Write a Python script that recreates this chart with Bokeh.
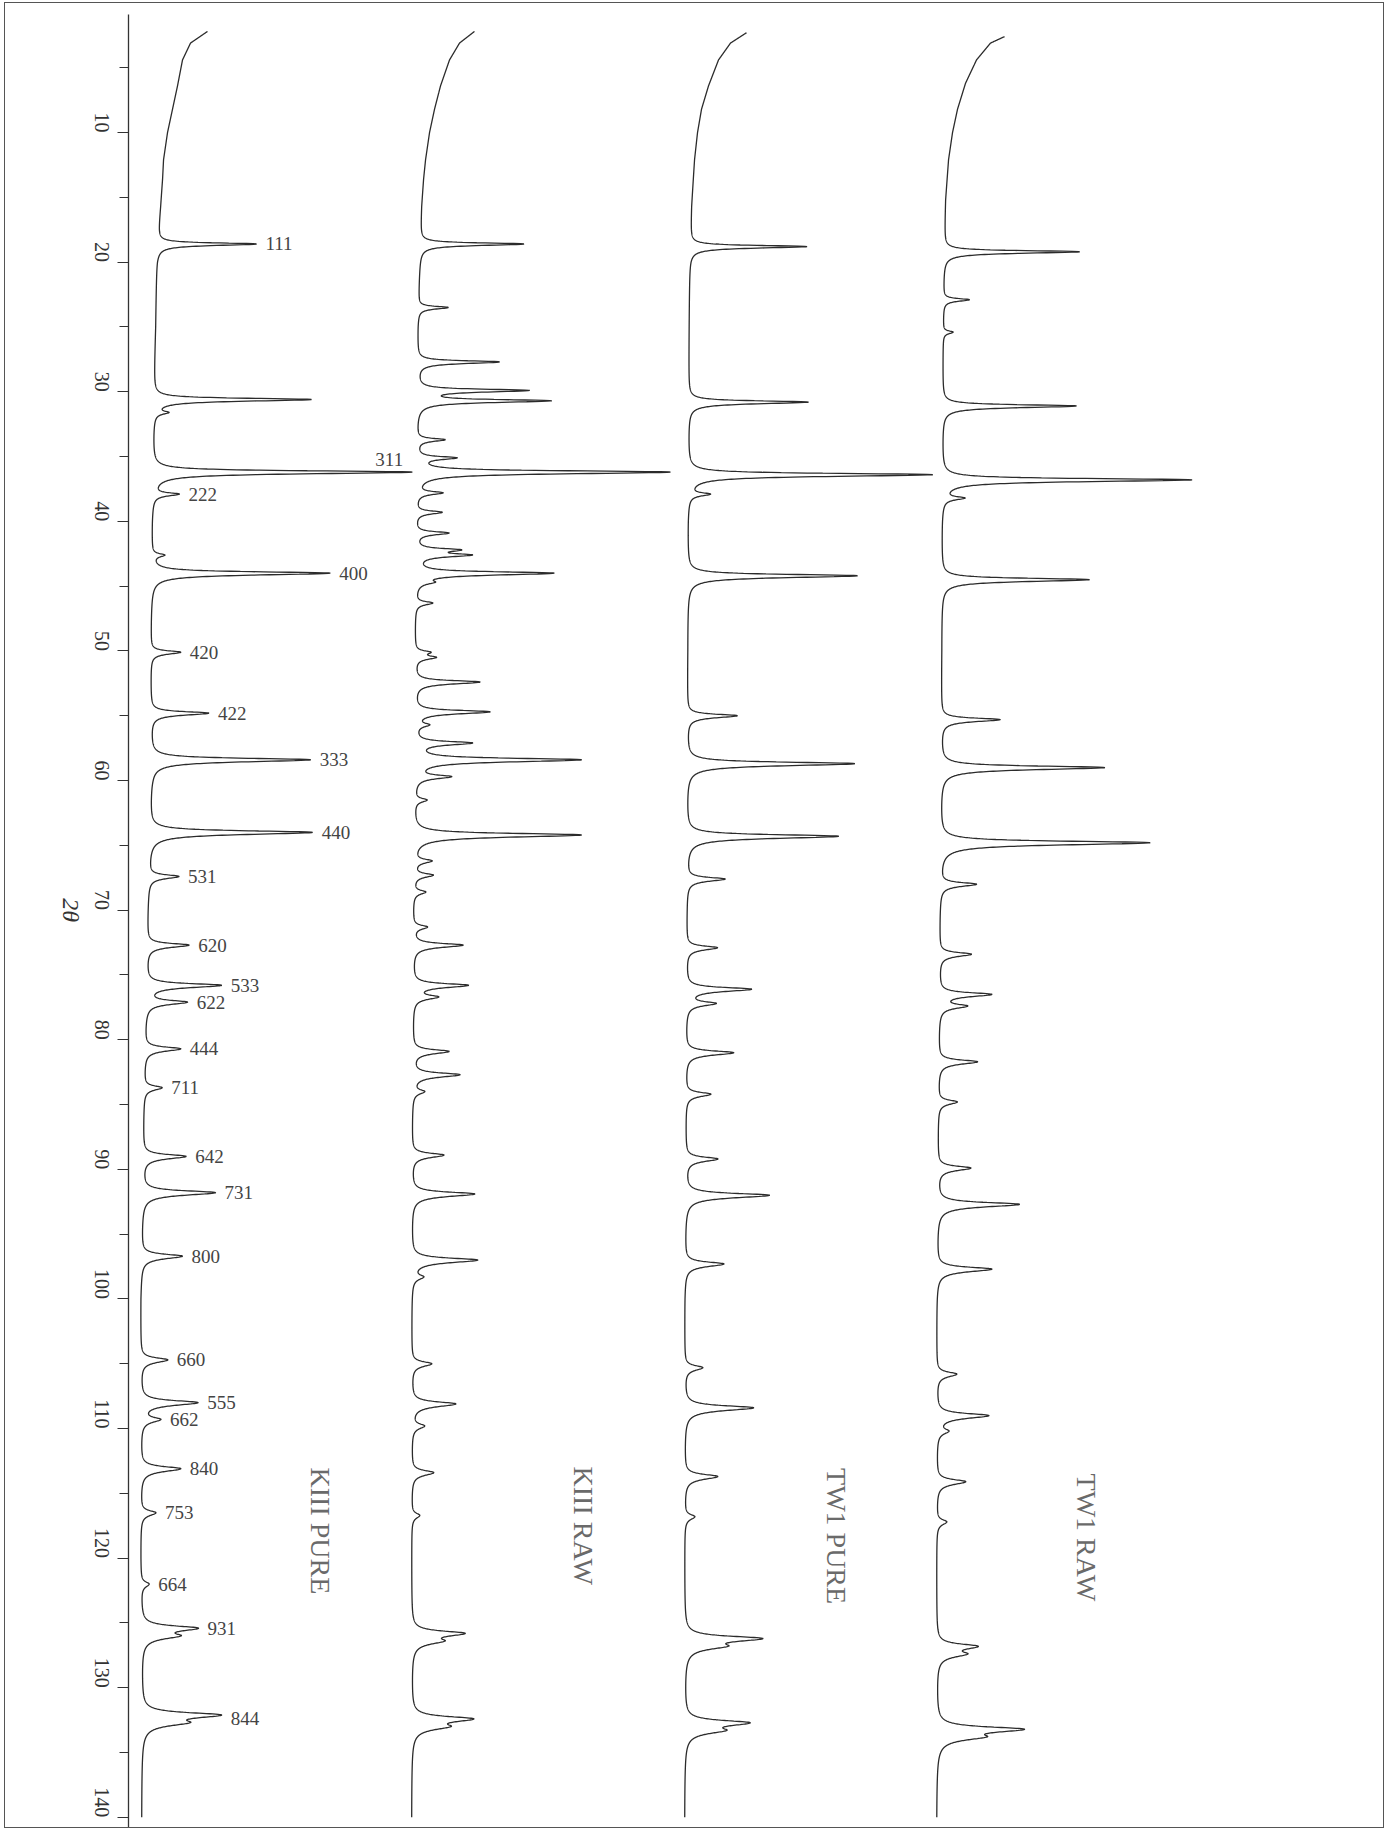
import math
import numpy as np
from bokeh.plotting import figure
from bokeh.models import Range1d, SingleIntervalTicker, ColumnDataSource
from bokeh.core.properties import value
from bokeh.embed import file_html
from bokeh.resources import INLINE

# ---------------- data ----------------
series_names = ["KIII PURE", "KIII RAW", "TW1 PURE", "TW1 RAW"]
scan_start = [2.2, 2.2, 2.3, 2.6]
scan_end = 140.0

# background (relative intensity) knots: 2-theta, intensity
kiii_pure_bg_t = [2.2, 3.1, 4.4, 6.4, 8.2, 10, 12.1, 13.6, 15.7, 17.5, 20, 25, 30, 35, 40, 50, 60, 70, 80, 90, 100, 110, 120, 130, 140]
kiii_pure_bg_i = [57, 40, 32, 27, 22, 17, 13, 12, 10, 8, 6, 5, 3, 2, 1, 0, 0, -3, -6, -8, -10, -10, -10, -9, -9]
kiii_raw_bg_t = [2.2, 3.1, 4.4, 6.4, 8.2, 10, 12.1, 13.6, 15.7, 17.5, 20, 25, 30, 35, 40, 50, 60, 70, 80, 90, 100, 110, 120, 130, 140]
kiii_raw_bg_i = [58, 43, 33, 24, 18, 13, 9, 7, 5, 4, 3, 1, 0, -1, -2, -2, -3, -4, -4, -5, -5, -5, -5, -5, -5]
tw1_pure_bg_t = [2.3, 3.1, 4.4, 6.4, 8.2, 10, 12.1, 15.7, 20, 30, 40, 50, 60, 70, 80, 90, 100, 120, 140]
tw1_pure_bg_i = [56, 40, 28, 18, 11, 7, 4, 1, -1, -2, -3, -3, -4, -4, -5, -5, -6, -6, -6]
tw1_raw_bg_t = [2.6, 3.1, 4.4, 6.2, 8.2, 10, 12.1, 15.2, 17.7, 20, 30, 40, 50, 60, 70, 80, 90, 100, 120, 140]
tw1_raw_bg_i = [60, 46, 32, 21, 13, 8, 4, 1, 0, -1, -2, -3, -3, -4, -5, -6, -7, -8, -8, -8]

# peaks: 2-theta position, height above background
kiii_pure_pk_t = [18.6, 30.6, 31.6, 36.2, 37.9, 42.6, 44.0, 50.1, 54.8, 58.4, 64.0, 67.4, 72.7, 75.8, 77.1,
                  80.7, 83.7, 89.0, 91.8, 96.7, 104.7, 108.0, 109.3, 113.1, 116.5, 122.0, 125.4, 126.0, 132.1, 132.7]
kiii_pure_pk_i = [99, 158, 12, 260, 25, 12, 179, 30, 58, 160, 163, 30, 42, 75, 40,
                  36, 18, 43, 73, 41, 27, 57, 18, 40, 15, 8, 54, 30, 76, 34]
kiii_raw_pk_t = [18.6, 23.5, 27.7, 29.9, 30.7, 33.7, 35.1, 36.2, 37.8, 39.3, 40.9, 42.2, 42.6, 44.0, 44.7, 46.3,
                 50.1, 50.5, 52.4, 54.7, 55.7, 57.1, 58.4, 59.7, 61.5, 64.2, 66.2, 67.3, 68.6, 71.3, 72.7, 75.8,
                 76.7, 80.9, 82.7, 84.0, 88.9, 91.9, 97.0, 98.3, 105.0, 108.1, 109.8, 113.4, 116.7, 125.8, 126.4,
                 132.4, 133.0]
kiii_raw_pk_i = [104, 30, 82, 110, 131, 28, 38, 254, 25, 26, 33, 41, 50, 138, 12, 17,
                 14, 19, 65, 75, 12, 56, 166, 34, 12, 168, 17, 19, 12, 14, 50, 55,
                 23, 36, 47, 11, 32, 63, 66, 10, 20, 44, 12, 22, 8, 51, 24,
                 59, 28]
tw1_pure_pk_t = [18.8, 30.8, 36.4, 37.9, 44.2, 55.0, 58.7, 64.3, 67.6, 72.9, 76.1, 77.2, 81.0, 84.2, 89.2,
                 92.0, 97.3, 105.3, 108.4, 113.7, 116.8, 126.2, 126.8, 132.7, 133.3]
tw1_pure_pk_i = [117, 120, 245, 20, 170, 50, 168, 152, 38, 31, 65, 28, 48, 25, 32,
                 84, 39, 18, 69, 33, 10, 75, 30, 62, 30]
tw1_raw_pk_t = [19.2, 22.9, 25.4, 31.1, 36.8, 38.2, 44.5, 55.3, 59.0, 64.8, 68.0, 73.4, 76.5, 77.4, 81.7,
                84.8, 89.9, 92.7, 97.7, 105.8, 109.0, 110.2, 114.1, 117.2, 126.8, 127.4, 133.2, 133.8]
tw1_raw_pk_i = [136, 26, 10, 134, 250, 20, 148, 59, 164, 210, 36, 32, 52, 26, 39,
                19, 33, 82, 55, 20, 52, 10, 29, 10, 39, 24, 84, 34]

# Miller indices marked on the KIII PURE pattern
hkl_text = ["111", "311", "222", "400", "420", "422", "333", "440", "531", "620", "533", "622", "444", "711",
            "642", "731", "800", "660", "555", "662", "840", "753", "664", "931", "844"]
hkl_t = [18.6, 36.2, 37.9, 44.0, 50.1, 54.8, 58.4, 64.0, 67.4, 72.7, 75.8, 77.1, 80.7, 83.7,
         89.0, 91.8, 96.7, 104.7, 108.0, 109.3, 113.1, 116.5, 122.0, 125.4, 132.4]

# ---------------- layout / style ----------------
offsets = [22, 288, 562, 816]          # horizontal stacking of the four patterns
name_pos_x = [192, 455, 708, 958]
name_pos_t = [117.9, 117.5, 118.3, 118.4]
LINE = "#2b2b2b"
SERIF = "Liberation Serif"

bgs = [(kiii_pure_bg_t, kiii_pure_bg_i), (kiii_raw_bg_t, kiii_raw_bg_i),
       (tw1_pure_bg_t, tw1_pure_bg_i), (tw1_raw_bg_t, tw1_raw_bg_i)]
pks = [(kiii_pure_pk_t, kiii_pure_pk_i), (kiii_raw_pk_t, kiii_raw_pk_i),
       (tw1_pure_pk_t, tw1_pure_pk_i), (tw1_raw_pk_t, tw1_raw_pk_i)]


def pattern(t0, bg, pk):
    tt = np.arange(t0, scan_end + 0.001, 0.015)
    inten = np.interp(tt, bg[0], bg[1]).astype(float)
    for c, h in zip(pk[0], pk[1]):
        w = 0.17 + 0.002 * c
        d = tt - c
        ww = np.where(d < 0, w, 1.35 * w)
        inten = inten + h / (1.0 + (2.0 * d / ww) ** 2)
    return tt, inten


p = figure(width=1380, height=1826,
           x_range=Range1d(0, 1257), y_range=Range1d(140.94, 0.895),
           output_backend="svg", toolbar_location=None, x_axis_location=None,
           min_border_left=123, min_border_right=0, min_border_top=11, min_border_bottom=0,
           styles={"border": "1px solid #555", "margin-left": "4px", "margin-top": "2px"})
p.outline_line_color = None
p.grid.visible = False

ax = p.yaxis[0]
ax.ticker = SingleIntervalTicker(interval=10, num_minor_ticks=2)
ax.major_label_orientation = -math.pi / 2
ax.major_label_text_font = SERIF
ax.major_label_text_font_size = "20px"
ax.major_label_text_color = "#333333"
ax.major_label_standoff = 16
ax.axis_line_color = "#333333"
ax.axis_line_width = 1.3
ax.major_tick_line_color = "#333333"
ax.minor_tick_line_color = "#333333"
ax.major_tick_out = 11
ax.major_tick_in = 0
ax.minor_tick_out = 9
ax.minor_tick_in = 0

# axis title "2θ" (reads top to bottom like the tick labels)
ax.axis_label = "2θ"
ax.axis_label_text_font = SERIF
ax.axis_label_text_font_style = "italic"
ax.axis_label_text_font_size = "24px"
ax.axis_label_text_color = "#333333"
ax.axis_label_standoff = 14
if "axis_label_orientation" in ax.properties():
    ax.axis_label_orientation = -math.pi / 2

curve1 = None
for i in range(4):
    tt, inten = pattern(scan_start[i], bgs[i], pks[i])
    p.line(x=inten + offsets[i], y=tt, line_color=LINE, line_width=1.3)
    if i == 0:
        curve1 = (tt, inten + offsets[i])

# hkl labels next to the peak tips of KIII PURE
lx, ly = [], []
for txt, t in zip(hkl_text, hkl_t):
    m = (curve1[0] > t - 0.35) & (curve1[0] < t + 0.35)
    tip = curve1[1][m].max()
    if txt == "311":
        lx.append(tip - 37)
        ly.append(t - 1.0)
    else:
        lx.append(tip + 9)
        ly.append(t)
src = ColumnDataSource(dict(x=lx, y=ly, text=hkl_text))
p.text(x="x", y="y", text="text", source=src, text_font=value(SERIF), text_font_size="19px",
       text_color="#444444", text_align="left", text_baseline="middle")

# series names (rotated)
nsrc = ColumnDataSource(dict(x=name_pos_x, y=name_pos_t, text=series_names))
p.text(x="x", y="y", text="text", source=nsrc, angle=-math.pi / 2, text_font=value(SERIF),
       text_font_size="28px", text_color="#6a6a6a", text_align="center", text_baseline="middle")

open("out.html", "w").write(file_html(p, INLINE))
